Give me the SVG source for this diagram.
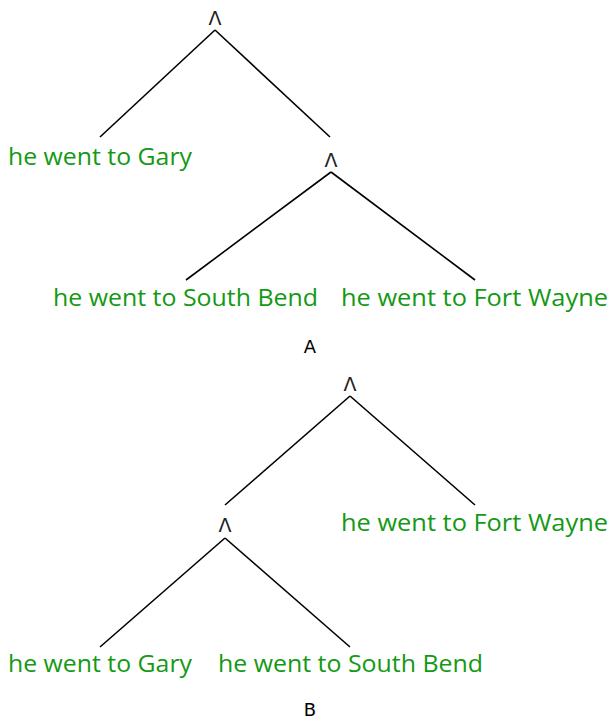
<svg xmlns="http://www.w3.org/2000/svg" width="613" height="719" viewBox="0 0 613 719">
<style>
.leaf{font-family:"Open Sans","DejaVu Sans",sans-serif;font-size:23px;fill:#149914}
.op{font-family:"DejaVu Sans",sans-serif;font-size:19px;fill:#222;text-anchor:middle}
.cap{font-family:"DejaVu Sans",sans-serif;font-size:18px;fill:#000;text-anchor:middle}
.edge{stroke:#000;stroke-width:1.6;fill:none}
</style>
<rect width="613" height="719" fill="#fff"/>
<g id="connectors">
<line class="edge" x1="215" y1="30" x2="100" y2="137"/>
<line class="edge" x1="215" y1="30" x2="330" y2="137"/>
<line class="edge" x1="331" y1="172" x2="186" y2="280"/>
<line class="edge" x1="331" y1="172" x2="475" y2="280"/>
<line class="edge" x1="350" y1="396" x2="225" y2="505"/>
<line class="edge" x1="350" y1="396" x2="475" y2="505"/>
<line class="edge" x1="225" y1="538" x2="100" y2="647"/>
<line class="edge" x1="225" y1="538" x2="350" y2="647"/>
</g>
<g id="A-root"><text class="op" x="215" y="25">Λ</text></g>
<g id="A-gary"><text class="leaf" x="8" y="165" textLength="184" lengthAdjust="spacingAndGlyphs">he went to Gary</text></g>
<g id="A-and"><text class="op" x="331" y="167">Λ</text></g>
<g id="A-southbend"><text class="leaf" x="53" y="306" textLength="265" lengthAdjust="spacingAndGlyphs">he went to South Bend</text></g>
<g id="A-fortwayne"><text class="leaf" x="341" y="306" textLength="267" lengthAdjust="spacingAndGlyphs">he went to Fort Wayne</text></g>
<g id="A-label"><text class="cap" x="310" y="353">A</text></g>
<g id="B-root"><text class="op" x="350" y="391">Λ</text></g>
<g id="B-fortwayne"><text class="leaf" x="341" y="531" textLength="267" lengthAdjust="spacingAndGlyphs">he went to Fort Wayne</text></g>
<g id="B-and"><text class="op" x="225" y="532">Λ</text></g>
<g id="B-gary"><text class="leaf" x="8" y="672" textLength="184" lengthAdjust="spacingAndGlyphs">he went to Gary</text></g>
<g id="B-southbend"><text class="leaf" x="218" y="672" textLength="265" lengthAdjust="spacingAndGlyphs">he went to South Bend</text></g>
<g id="B-label"><text class="cap" x="310" y="716">B</text></g>
</svg>
